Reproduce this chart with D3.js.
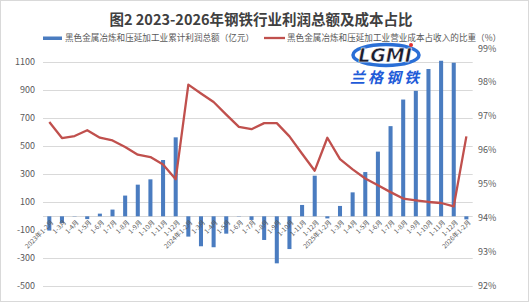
<!DOCTYPE html>
<html>
<head>
<meta charset="utf-8">
<script src="https://cdn.jsdelivr.net/npm/d3@7"></script>
<style>
  body { margin: 0; background: #fff; }
  svg text { font-family: "Noto Sans CJK SC", "Noto Sans", sans-serif; }
</style>
</head>
<body>
<div id="chart"></div>
<script>
// categories (months, cumulative)
const categories = [
  "2023年1-2月", "1-3月", "1-4月", "1-5月", "1-6月", "1-7月", "1-8月", "1-9月", "1-10月", "1-11月", "1-12月",
  "2024年1-2月", "1-3月", "1-4月", "1-5月", "1-6月", "1-7月", "1-8月", "1-9月", "1-10月", "1-11月", "1-12月",
  "2025年1-2月", "1-3月", "1-4月", "1-5月", "1-6月", "1-7月", "1-8月", "1-9月", "1-10月", "1-11月", "1-12月",
  "2026年1-2月"
];

// 累计利润总额（亿元）
const profit = [
  -102, -48, -2, -20, 19, 48, 148, 226, 264, 402, 564,
  -145, -214, -221, -124, 2, -26, -169, -336, -234, 81, 290,
  -15, 74, 171, 316, 462, 644, 834, 896, 1052, 1111, 1097,
  -22
];

// 营业成本占收入的比重（%）
const costRatio = [
  96.83, 96.36, 96.42, 96.59, 96.37, 96.29, 96.10, 95.87, 95.80, 95.58, 95.15,
  97.93, 97.67, 97.42, 97.05, 96.69, 96.62, 96.80, 96.80, 96.41, 95.90, 95.40,
  96.37, 95.74, 95.44, 95.17, 94.97, 94.77, 94.58, 94.53, 94.48, 94.45, 94.35,
  96.41
];

const leftTicks = [-500, -300, -100, 100, 300, 500, 700, 900, 1100];
const rightTicks = [92, 93, 94, 95, 96, 97, 98, 99];

const title = "图2 2023-2026年钢铁行业利润总额及成本占比";
const legendProfit = "黑色金属冶炼和压延加工业累计利润总额（亿元）";
const legendRatio = "黑色金属冶炼和压延加工业营业成本占收入的比重（%）";

const width = 529;
const height = 302;
const plot = { left: 43, right: 472.7, top: 48.3, bottom: 286.3 };
const barColor = "#4a7cc0";
const lineColor = "#c0504d";
const gridColor = "#d9d9d9";
const textColor = "#595959";

const svg = d3.select("#chart")
  .append("svg")
  .attr("width", width)
  .attr("height", height);

// outer frame
svg.append("rect")
  .attr("x", 0.5).attr("y", 0.5)
  .attr("width", width - 1).attr("height", height - 1)
  .attr("fill", "#fff")
  .attr("stroke", gridColor);

// scales
const x = d3.scaleBand()
  .domain(d3.range(categories.length))
  .range([plot.left, plot.right])
  .paddingInner(0.68)
  .paddingOuter(0.34);

const yLeft = d3.scaleLinear()
  .domain([-500, 1200])
  .range([plot.bottom, plot.top]);

const yRight = d3.scaleLinear()
  .domain([92, 99])
  .range([plot.bottom, plot.top]);

// gridlines (no line at -100 in the original, the category labels sit there)
svg.append("g")
  .selectAll("line")
  .data(leftTicks.filter((d) => d !== -100))
  .enter()
  .append("line")
  .attr("x1", plot.left)
  .attr("x2", plot.right)
  .attr("y1", (d) => Math.round(yLeft(d)) + 0.5)
  .attr("y2", (d) => Math.round(yLeft(d)) + 0.5)
  .attr("stroke", gridColor)
  .attr("stroke-width", 1);

// zero line
svg.append("line")
  .attr("x1", plot.left)
  .attr("x2", plot.right)
  .attr("y1", Math.round(yLeft(0)) + 0.5)
  .attr("y2", Math.round(yLeft(0)) + 0.5)
  .attr("stroke", gridColor);

// logo watermark
const logo = svg.append("g").attr("class", "logo");
logo.append("ellipse")
  .attr("cx", 386).attr("cy", 55)
  .attr("rx", 33).attr("ry", 10.5)
  .attr("fill", "#fff")
  .attr("stroke", "#2a6fd6")
  .attr("stroke-width", 3.5);
logo.append("text")
  .attr("x", 385).attr("y", 62)
  .attr("text-anchor", "middle")
  .style("font-family", "'DejaVu Sans', sans-serif")
  .style("font-size", "19px")
  .style("font-weight", "bold")
  .style("font-style", "italic")
  .attr("fill", "#1c1c2e")
  .attr("stroke", "#fff")
  .attr("stroke-width", 0.6)
  .text("LGMI");
logo.append("circle")
  .attr("cx", 411).attr("cy", 45).attr("r", 2)
  .attr("fill", "#e03030");
logo.append("text")
  .attr("x", 386).attr("y", 83)
  .attr("text-anchor", "middle")
  .style("font-size", "15px")
  .style("font-weight", "bold")
  .style("font-style", "italic")
  .style("letter-spacing", "3px")
  .attr("fill", "#1e5bd8")
  .text("兰格钢铁");

// bars
svg.append("g")
  .selectAll("rect")
  .data(profit)
  .enter()
  .append("rect")
  .attr("x", (d, i) => x(i))
  .attr("width", x.bandwidth())
  .attr("y", (d) => yLeft(Math.max(0, d)))
  .attr("height", (d) => Math.abs(yLeft(d) - yLeft(0)))
  .attr("fill", barColor);

// line
const line = d3.line()
  .x((d, i) => x(i) + x.bandwidth() / 2)
  .y((d) => yRight(d));

svg.append("path")
  .datum(costRatio)
  .attr("d", line)
  .attr("fill", "none")
  .attr("stroke", lineColor)
  .attr("stroke-width", 2.3)
  .attr("stroke-linejoin", "round");

// left axis labels
svg.append("g")
  .selectAll("text")
  .data(leftTicks)
  .enter()
  .append("text")
  .attr("x", 35)
  .attr("y", (d) => yLeft(d))
  .attr("dy", "0.35em")
  .attr("text-anchor", "end")
  .style("font-size", "9px")
  .attr("fill", textColor)
  .text((d) => d);

// right axis labels
svg.append("g")
  .selectAll("text")
  .data(rightTicks)
  .enter()
  .append("text")
  .attr("x", 478)
  .attr("y", (d) => yRight(d) + (d === 99 ? 1 : 0))
  .attr("dy", "0.35em")
  .attr("text-anchor", "start")
  .style("font-size", "9px")
  .attr("fill", textColor)
  .text((d) => d + "%");

// category labels, rotated
svg.append("g")
  .selectAll("text")
  .data(categories)
  .enter()
  .append("text")
  .attr("transform", (d, i) =>
    `translate(${x(i) + x.bandwidth() / 2 + 3}, ${yLeft(0) + 5}) rotate(-45)`)
  .attr("text-anchor", "end")
  .attr("dy", "0.35em")
  .style("font-size", "6.5px")
  .attr("fill", textColor)
  .text((d) => d);

// title
svg.append("text")
  .attr("x", 261)
  .attr("y", 25)
  .attr("text-anchor", "middle")
  .style("font-size", "14.5px")
  .style("font-weight", "bold")
  .attr("fill", "#404040")
  .text(title);

// legend
const legend = svg.append("g").attr("class", "legend");
legend.append("rect")
  .attr("x", 43).attr("y", 36.5)
  .attr("width", 19).attr("height", 3.5)
  .attr("fill", barColor);
legend.append("text")
  .attr("x", 65).attr("y", 38)
  .attr("dy", "0.35em")
  .style("font-size", "8.6px")
  .attr("fill", textColor)
  .text(legendProfit);
legend.append("line")
  .attr("x1", 264).attr("x2", 285)
  .attr("y1", 38).attr("y2", 38)
  .attr("stroke", lineColor)
  .attr("stroke-width", 2.3);
legend.append("text")
  .attr("x", 287).attr("y", 38)
  .attr("dy", "0.35em")
  .style("font-size", "8.6px")
  .attr("fill", textColor)
  .text(legendRatio);
</script>
</body>
</html>
